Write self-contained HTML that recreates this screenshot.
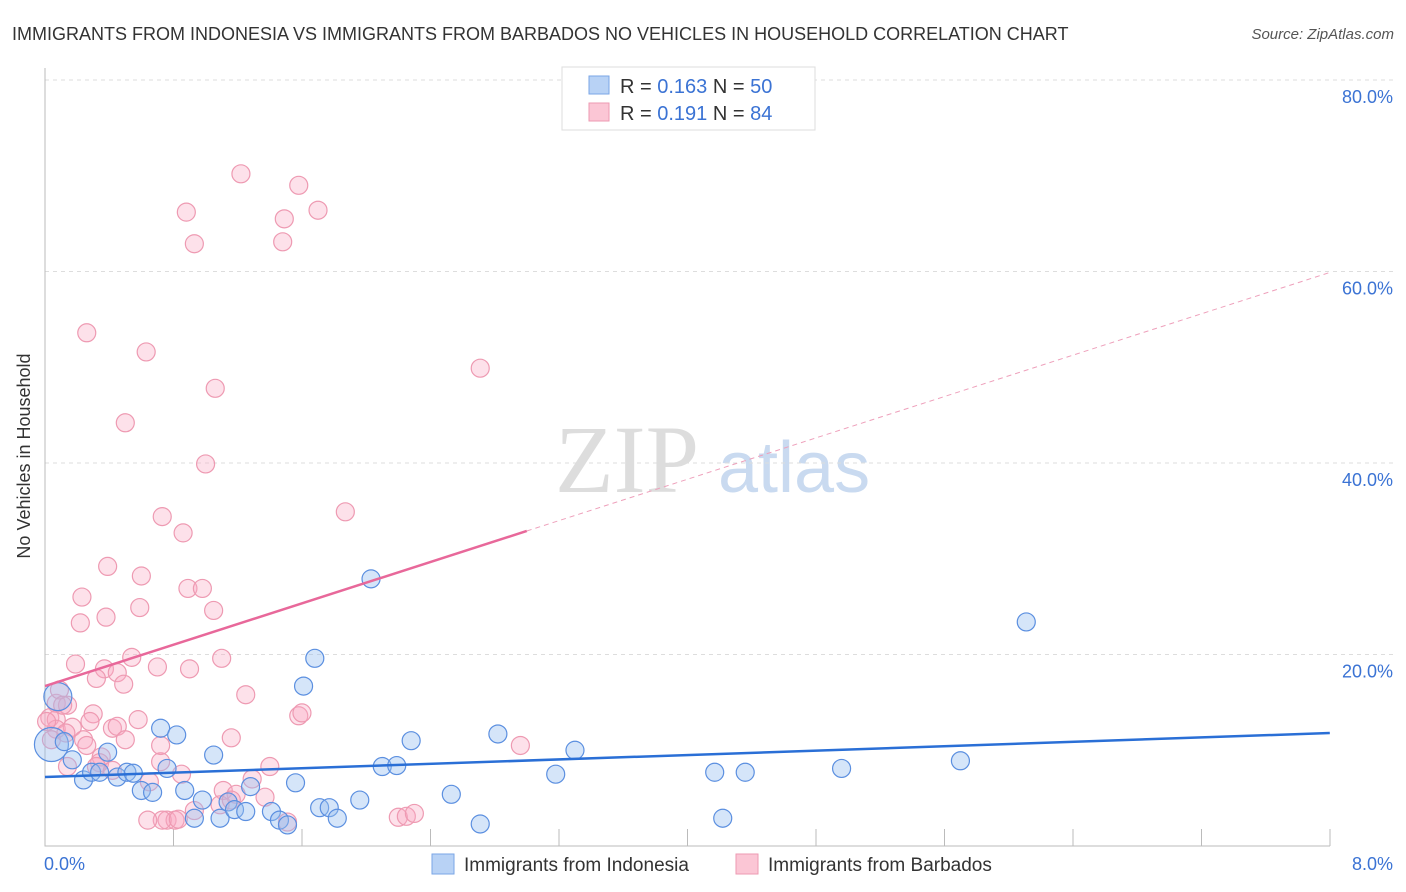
<!DOCTYPE html>
<html><head><meta charset="utf-8"><style>
body{margin:0;background:#fff;font-family:"Liberation Sans",sans-serif}
svg{display:block}
</style></head><body>
<svg id="c" width="1406" height="892">
<text x="12" y="40" font-size="18" fill="#333">IMMIGRANTS FROM INDONESIA VS IMMIGRANTS FROM BARBADOS NO VEHICLES IN HOUSEHOLD CORRELATION CHART</text>
<text x="1394" y="39" font-size="15" fill="#555" font-style="italic" text-anchor="end">Source: ZipAtlas.com</text>
<text x="30" y="456" font-size="18" fill="#333" text-anchor="middle" transform="rotate(-90 30 456)">No Vehicles in Household</text>
<g><text x="555" y="492" font-size="96" fill="#ddd" font-family="Liberation Serif,serif">ZIP</text><text x="718" y="492" font-size="72" fill="#c9daf0">atlas</text></g>
<g id="grid"></g><g id="pts"></g><g id="lines"></g>
<g>
<rect x="562" y="67" width="253" height="63" fill="#fff" stroke="#ddd"/>
<rect x="589" y="76" width="20" height="18" fill="#b8d2f5" stroke="#7aa6e6"/>
<rect x="589" y="103" width="20" height="18" fill="#fbc6d5" stroke="#ee9ab2"/>
<text x="620" y="93" font-size="20" fill="#333">R = <tspan fill="#3b73d4">0.163</tspan>   N = <tspan fill="#3b73d4">50</tspan></text>
<text x="620" y="120" font-size="20" fill="#333">R =  <tspan fill="#3b73d4">0.191</tspan>   N =  <tspan fill="#3b73d4">84</tspan></text>
</g>
<g>
<rect x="432" y="854" width="22" height="20" fill="#b8d2f5" stroke="#7aa6e6"/>
<text x="464" y="871" font-size="19" fill="#333">Immigrants from Indonesia</text>
<rect x="736" y="854" width="22" height="20" fill="#fbc6d5" stroke="#ee9ab2"/>
<text x="768" y="871" font-size="19" fill="#333">Immigrants from Barbados</text>
</g>
<text x="44" y="870" font-size="18" fill="#3b73d4">0.0%</text>
<text x="1393" y="870" font-size="18" fill="#3b73d4" text-anchor="end">8.0%</text>
</svg>
<script>
const yTicks=[20,40,60,80];
const blueX=[0.08,0.04,0.12,0.17,0.24,0.29,0.34,0.39,0.45,0.51,0.55,0.60,0.67,0.72,0.76,0.82,0.87,0.93,0.98,1.05,1.09,1.14,1.18,1.25,1.28,1.41,1.46,1.51,1.56,1.61,1.68,1.71,1.77,1.82,1.96,2.03,2.10,2.19,2.28,2.53,2.71,2.82,3.18,3.30,4.17,4.22,4.36,4.96,5.70,6.11];
const blueY=[15.6,10.6,10.9,9.0,6.9,7.7,7.7,9.8,7.2,7.7,7.6,5.8,5.6,12.3,8.1,11.6,5.8,2.9,4.8,9.5,2.9,4.6,3.8,3.6,6.2,3.6,2.7,2.2,6.6,16.7,19.6,4.0,4.0,2.9,4.8,27.9,8.3,8.4,11.0,5.4,2.3,11.7,7.5,10.0,7.7,2.9,7.7,8.1,8.9,23.4];
const pinkX=[0.26,0.63,1.22,1.58,0.88,1.70,1.49,0.93,1.48,2.71,1.06,0.50,1.00,0.73,1.87,0.86,0.39,0.60,0.23,0.89,0.98,0.59,0.38,1.05,0.22,0.19,0.54,0.37,0.70,0.90,1.10,0.45,0.32,0.49,1.25,0.07,0.14,0.30,1.58,1.60,0.03,0.07,0.28,0.58,0.42,0.45,0.07,0.17,1.16,0.50,0.24,2.96,0.35,0.34,0.72,0.32,0.14,0.42,0.65,0.85,1.29,1.11,1.19,1.37,0.93,0.76,0.81,0.73,0.64,0.83,1.51,2.20,2.25,2.30,0.09,0.11,0.04,0.13,0.01,1.09,1.16,1.40,0.26,0.72];
const pinkY=[53.6,51.6,70.2,69.0,66.2,66.4,65.5,62.9,63.1,49.9,47.8,44.2,39.9,34.4,34.9,32.7,29.2,28.2,26.0,26.9,26.9,24.9,23.9,24.6,23.3,19.0,19.7,18.5,18.7,18.5,19.6,18.1,17.5,16.9,15.8,14.9,14.7,13.8,13.6,13.9,13.4,13.2,13.0,13.2,12.3,12.5,12.2,12.4,11.3,11.1,11.1,10.5,9.3,8.7,8.8,8.3,8.3,7.9,6.7,7.5,7.0,5.8,5.4,5.1,3.7,2.7,2.7,2.7,2.7,2.8,2.5,3.0,3.1,3.4,16.3,14.7,11.1,11.8,13.0,4.3,4.8,8.3,10.5,10.5];
const blueTrend=[7.2,11.8];   // y at x=0 and x=8
const pinkTrend=[16.7,5.4];   // intercept, slope
const pinkSolidEnd=3.0;
const X=v=>45+v*160.6, Y=v=>846-v*9.575;
const NS='http://www.w3.org/2000/svg';
function mk(t,a,p){const e=document.createElementNS(NS,t);for(const k in a)e.setAttribute(k,a[k]);p.appendChild(e);return e;}
const grid=document.getElementById('grid');
yTicks.forEach(t=>{
 const l=mk('line',{x1:45,x2:1394,y1:Y(t),y2:Y(t),stroke:'#ddd','stroke-dasharray':'4 4'},grid);
 
 
 const tx=mk('text',{x:1393,y:Y(t)+23,'font-size':18,fill:'#3b73d4','text-anchor':'end'},grid);
 tx.textContent=t.toFixed(1)+'%';
 
 
});
const ax=mk('path',{d:'M45 68V846H1330',fill:'none',stroke:'#bbb'},grid);


for(let i=1;i<=10;i++){const x=45+i*128.5;const t=mk('line',{x1:x,x2:x,y1:829,y2:846,stroke:'#bbb'},grid);
 
 }
const pts=document.getElementById('pts');
pinkX.forEach((v,i)=>{const c=mk('circle',{cx:X(v),cy:Y(pinkY[i]),r:9,fill:'rgba(248,170,195,0.35)',stroke:'#ee9ab2','stroke-width':1.2},pts);
 
 });
blueX.forEach((v,i)=>{const r=i==0?14:(i==1?17:9);const c=mk('circle',{cx:X(v),cy:Y(blueY[i]),r:r,fill:'rgba(150,190,240,0.4)',stroke:'#5b8fe0','stroke-width':1.2},pts);
 
 });
const lines=document.getElementById('lines');
const bl=mk('line',{x1:X(0),y1:Y(blueTrend[0]),x2:X(8),y2:Y(blueTrend[1]),stroke:'#2a6fd6','stroke-width':2.5},lines);


const pl=mk('line',{x1:X(0),y1:Y(pinkTrend[0]),x2:X(pinkSolidEnd),y2:Y(pinkTrend[0]+pinkTrend[1]*pinkSolidEnd),stroke:'#e8689a','stroke-width':2.5},lines);


const pd=mk('line',{x1:X(pinkSolidEnd),y1:Y(pinkTrend[0]+pinkTrend[1]*pinkSolidEnd),x2:X(8),y2:Y(pinkTrend[0]+pinkTrend[1]*8),stroke:'#eea0bb','stroke-width':1,'stroke-dasharray':'5 4'},lines);


</script>
</body></html>
